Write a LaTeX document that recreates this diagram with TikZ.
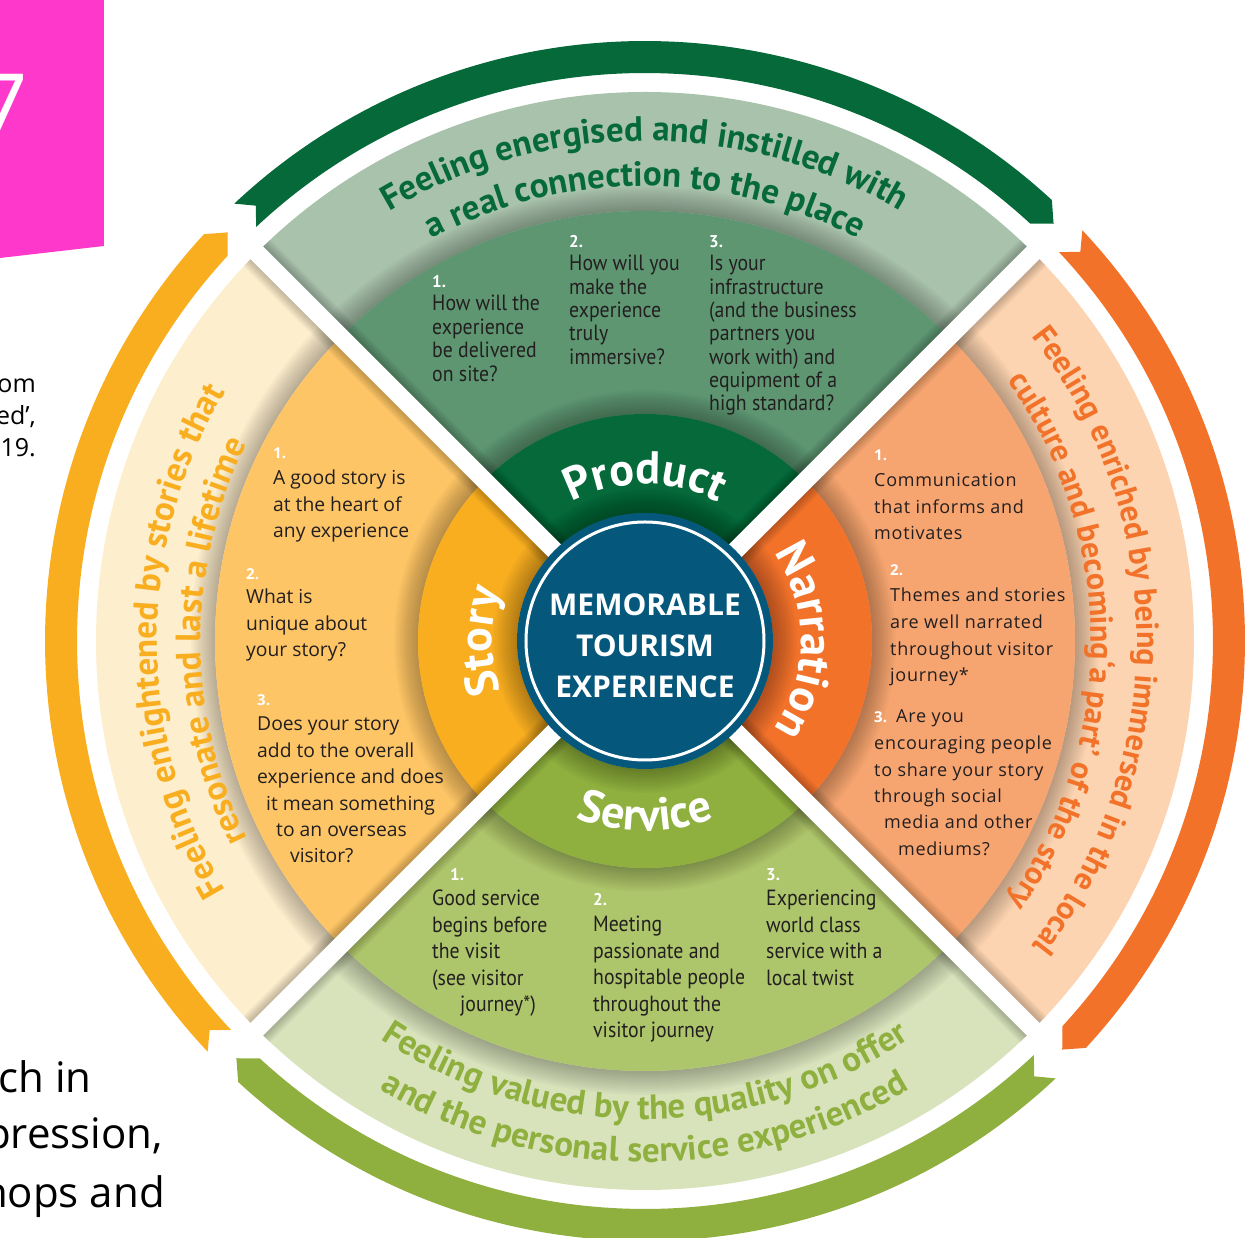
\documentclass[tikz,border=0pt]{standalone}
\usepackage{fontspec}
\setmainfont{Open Sans}
\newfontfamily\ptsans{PT Sans}
\newfontfamily\ptnarrow[FakeStretch=0.9]{PT Sans}
\newfontfamily\openwide[LetterSpace=4]{Open Sans}
\usetikzlibrary{decorations.text}

\definecolor{prodD}{HTML}{05693A}
\definecolor{prodM}{HTML}{5E9672}
\definecolor{prodL}{HTML}{A8C2AB}
\definecolor{storyD}{HTML}{F9AE20}
\definecolor{storyM}{HTML}{FDC566}
\definecolor{storyL}{HTML}{FDEECD}
\definecolor{narrD}{HTML}{F2722A}
\definecolor{narrM}{HTML}{F7A570}
\definecolor{narrL}{HTML}{FDD4B1}
\definecolor{servD}{HTML}{8FB03F}
\definecolor{servM}{HTML}{AEC66B}
\definecolor{servL}{HTML}{D8E3BC}
\definecolor{hub}{HTML}{05587C}
\definecolor{pinkbox}{HTML}{FF38CC}
\definecolor{ink}{HTML}{231F20}

\tikzset{
  qtop/.style={anchor=base west, inner sep=0, text=ink, font=\ptnarrow\fontsize{22}{24}\selectfont},
  qside/.style={anchor=base west, inner sep=0, text=ink, font=\fontsize{19.3}{22}\selectfont},
  qwide/.style={anchor=base west, inner sep=0, text=ink, font=\openwide\fontsize{18}{22}\selectfont},
  qnum/.style={anchor=base west, inner sep=0, text=white, font=\ptsans\bfseries\fontsize{17}{18}\selectfont},
  qnumo/.style={anchor=base west, inner sep=0, text=white, font=\bfseries\fontsize{15}{18}\selectfont},
  hubtext/.style={anchor=base, inner sep=0, text=white, font=\bfseries\fontsize{30}{32}\selectfont},
  pagetext/.style={anchor=base east, inner sep=0, text=black},
  shade/.style={black, opacity=0.022}
}

% one quarter of a ring, centred on angle #1
\newcommand\quarter[3]{\fill[#3] (0,0) -- ({#1-45}:#2) arc[start angle={#1-45}, end angle={#1+45}, radius=#2] -- cycle;}
% outer arrow band, notched tail and pointed head, running clockwise
\newcommand\ribbon[2]{\fill[#2] ({#1+43.2}:600) arc[start angle={#1+43.2}, end angle={#1-42.7}, radius=600]
  -- ({#1-44.4}:584) -- ({#1-42.7}:568) arc[start angle={#1-42.7}, end angle={#1+43.2}, radius=568]
  -- ({#1+41.8}:584) -- cycle;}
% soft shadow just outside radius #1
\newcommand\softring[1]{\foreach \s in {1,...,12} \draw[shade, line width={2*\s}] (0,0) circle ({#1+\s});}
% text along an arc
\newcommand\arctext[5]{\path[decorate, decoration={text along path, text align=center, text color=#4, text={#5}}]
  ({#1+#2}:#3) arc[start angle={#1+#2}, end angle={#1-#2}, radius=#3];}
% nodes placed at picture pixel positions
\newcommand\imgnode[5]{\node[#4] (#1) at ({#2-645},{641-#3}) {#5};}
\newcommand\qlines[6]{\foreach \qline [count=\k from 0] in {#6}
  \node[#5] (#1-\k) at ({#2-645},{641-#3-\k*#4}) {\qline};}
\newcommand\bandfont{\ptsans\bfseries\fontsize{35}{36}\selectfont}
\newcommand\bandfontr{\ptsans\bfseries\fontsize{32}{34}\selectfont}
\newcommand\keyfont{\ptsans\bfseries\fontsize{46}{48}\selectfont}

\begin{document}
\begin{tikzpicture}[x=1pt,y=1pt]
\useasboundingbox (-645,-597) rectangle (605,641);
\clip (-645,-597) rectangle (605,641);

% page behind the wheel
\fill[pinkbox] (-645,641) -- (-541,641) -- (-541,395) -- (-645,383) -- cycle;
\begin{scope}
  \clip (-645,641) -- (-541,641) -- (-541,395) -- (-645,383) -- cycle;
  \node[anchor=base east, inner sep=0, text=white, font=\fontsize{90}{90}\selectfont] (seven) at (-617,502) {7};
\end{scope}
\begin{scope}[font=\fontsize{25}{30}\selectfont]
  \imgnode{side1}{36}{393}{pagetext}{om}
  \imgnode{side2}{36}{425}{pagetext}{ed’,}
  \imgnode{side3}{36}{457}{pagetext}{19.}
\end{scope}
\begin{scope}[font=\fontsize{42}{50}\selectfont]
  \imgnode{body1}{92}{1092}{pagetext}{ch in}
  \imgnode{body2}{163}{1148}{pagetext}{pression,}
  \imgnode{body3}{165}{1207}{pagetext}{hops and}
\end{scope}

% arrows
\ribbon{90}{prodD}
\ribbon{0}{narrD}
\ribbon{270}{servD}
\ribbon{180}{storyD}

% rings
\quarter{90}{549}{prodL}   \quarter{0}{549}{narrL}   \quarter{270}{549}{servL}   \quarter{180}{549}{storyL}
\softring{430}
\quarter{90}{430}{prodM}   \quarter{0}{430}{narrM}   \quarter{270}{430}{servM}   \quarter{180}{430}{storyM}
\softring{227}
\quarter{90}{227}{prodD}   \quarter{0}{227}{narrD}   \quarter{270}{227}{servD}   \quarter{180}{227}{storyD}
\softring{128}
\foreach \s in {1,...,10} {
  \draw[shade, line width={18+2*\s}] (45:549) -- (225:549);
  \draw[shade, line width={18+2*\s}] (135:549) -- (315:549);
}
\draw[white, line width=18] (45:556) -- (225:556);
\draw[white, line width=18] (135:556) -- (315:556);

% hub
\fill[hub] (0,0) circle (128);
\draw[white, line width=3] (0,0) circle (119);
\imgnode{hub1}{645}{616}{hubtext}{MEMORABLE}
\imgnode{hub2}{645}{657}{hubtext}{TOURISM}
\imgnode{hub3}{645}{698}{hubtext}{EXPERIENCE}

% inner labels
\arctext{90}{60}{157}{white}{|\keyfont|Product}
\arctext{0}{60}{156}{white}{|\keyfont|Narration}
\arctext{180}{60}{153}{white}{|\keyfont|Story}
\arctext{270}{-60}{190}{white}{|\keyfont|Service}

% outer band texts
\arctext{90}{80}{500}{prodD}{|\bandfont|Feeling energised and instilled with}
\arctext{90}{80}{455}{prodD}{|\bandfont|a real connection to the place}
\arctext{180}{80}{488}{storyD}{|\bandfont|Feeling enlightened by stories that}
\arctext{180}{80}{444}{storyD}{|\bandfont|resonate and last a lifetime}
\arctext{0}{85}{492}{narrD}{|\bandfontr|Feeling enriched by being immersed in the local}
\arctext{0}{85}{446}{narrD}{|\bandfontr|culture and becoming‘a part’ of the story}
\arctext{270}{-80}{478}{servD}{|\bandfont|Feeling valued by the quality on offer}
\arctext{270}{-80}{521}{servD}{|\bandfont|and the personal service experienced}

% product questions
\imgnode{pn1}{432}{288}{qnum}{1.}
\qlines{pq1}{432}{311}{23.4}{qtop}{How will the, experience, be delivered, on site?}
\imgnode{pn2}{569}{248}{qnum}{2.}
\qlines{pq2}{569}{271}{23.3}{qtop}{How will you, make the, experience, truly, immersive?}
\imgnode{pn3}{709}{248}{qnum}{3.}
\qlines{pq3}{709}{271}{23.3}{qtop}{Is your, infrastructure, {(and the business}, partners you, work with) and, equipment of a, high standard?}

% story questions
\imgnode{sn1}{273}{459}{qnumo}{1.}
\qlines{sq1}{273}{485}{26.5}{qside}{A good story is, at the heart of, any experience}
\imgnode{sn2}{246}{580}{qnumo}{2.}
\qlines{sq2}{246}{604}{26.5}{qside}{What is, unique about, your story?}
\imgnode{sn3}{257}{706}{qnumo}{3.}
\qlines{sq3}{257}{731}{26.4}{qside}{Does your story, add to the overall, experience and does, \hspace{9pt}it mean something, \hspace{19pt}to an overseas, \hspace{33pt}visitor?}

% narration questions
\imgnode{nn1}{874}{461}{qnumo}{1.}
\qlines{nq1}{874}{487}{26.5}{qwide}{Communication, that informs and, motivates}
\imgnode{nn2}{890}{576}{qnumo}{2.}
\qlines{nq2}{890}{602}{26.6}{qwide}{Themes and stories, are well narrated, throughout visitor, journey*}
\imgnode{nn3}{874}{723}{qnumo}{3.}
\imgnode{nq3a}{896}{723}{qwide}{Are you}
\qlines{nq3}{874}{750}{26.3}{qwide}{encouraging people, to share your story, through social, \hspace{10pt}media and other, \hspace{24pt}mediums?}

% service questions
\imgnode{vn1}{450}{881}{qnum}{1.}
\qlines{vq1}{432}{906}{26.5}{qtop}{Good service, begins before, the visit, {(see visitor}, \hspace{28pt}journey*)}
\imgnode{vn2}{593}{906}{qnum}{2.}
\qlines{vq2}{593}{932}{26.5}{qtop}{Meeting, passionate and, hospitable people, throughout the, visitor journey}
\imgnode{vn3}{766}{881}{qnum}{3.}
\qlines{vq3}{766}{906}{26.5}{qtop}{Experiencing, world class, service with a, local twist}
\end{tikzpicture}
\end{document}
